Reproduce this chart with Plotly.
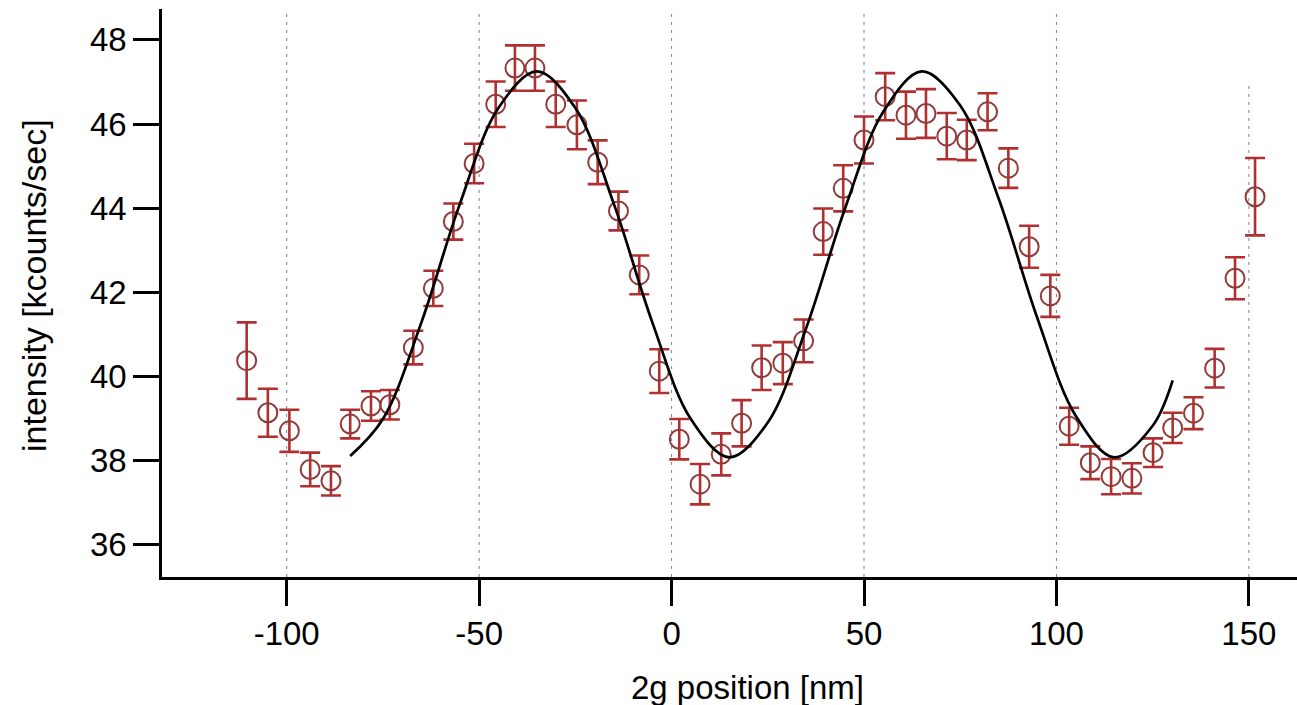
import plotly.graph_objects as go

# Measured intensity vs 2g position
position_nm = [-110.4, -104.9, -99.3, -93.9, -88.5, -83.5, -78.1, -73.2, -67.1, -61.9,
               -56.7, -51.3, -45.7, -40.7, -35.5, -30.1, -24.6, -19.2, -13.8, -8.4,
               -3.2, 2.0, 7.4, 12.9, 18.2, 23.4, 28.9, 34.3, 39.4, 44.6,
               50.0, 55.5, 60.9, 66.1, 71.5, 76.7, 82.1, 87.5, 92.9, 98.4,
               103.3, 108.8, 114.2, 119.6, 125.1, 130.2, 135.6, 141.1, 146.4, 151.6]
intensity = [40.37, 39.13, 38.70, 37.78, 37.51, 38.86, 39.29, 39.32, 40.68, 42.09,
             43.68, 45.06, 46.47, 47.33, 47.33, 46.47, 45.98, 45.09, 43.93, 42.41,
             40.12, 38.50, 37.43, 38.14, 38.88, 40.20, 40.31, 40.84, 43.44, 44.47,
             45.62, 46.65, 46.21, 46.25, 45.71, 45.62, 46.29, 44.95, 43.08, 41.91,
             38.81, 37.94, 37.61, 37.57, 38.18, 38.77, 39.12, 40.19, 42.33, 44.27]
intensity_err = [0.91, 0.57, 0.50, 0.40, 0.35, 0.34, 0.35, 0.35, 0.40, 0.42,
                 0.43, 0.47, 0.54, 0.54, 0.54, 0.54, 0.58, 0.52, 0.46, 0.46,
                 0.52, 0.48, 0.48, 0.50, 0.55, 0.53, 0.50, 0.51, 0.55, 0.55,
                 0.56, 0.56, 0.56, 0.58, 0.55, 0.48, 0.44, 0.47, 0.50, 0.50,
                 0.44, 0.39, 0.42, 0.36, 0.34, 0.36, 0.38, 0.46, 0.50, 0.92]

# Fitted curve, sampled
fit_x = [-83.5, -75, -65, -55, -45, -35, -25, -15, -5, 5, 15, 25,
         35, 45, 55, 65, 75, 85, 95, 105, 115, 125, 130.2]
fit_y = [38.10, 38.98, 41.28, 44.10, 46.38, 47.25, 46.38, 44.10, 41.28, 38.98, 38.07, 38.90,
         41.15, 43.97, 46.29, 47.25, 46.44, 44.22, 41.39, 39.06, 38.07, 38.82, 39.90]

x_ticks = [-100, -50, 0, 50, 100, 150]
x_tick_labels = ["-100", "-50", "0", "50", "100", "150"]
y_ticks = [36, 38, 40, 42, 44, 46, 48]
y_tick_labels = ["36", "38", "40", "42", "44", "46", "48"]
grid_top = [0.995, 0.995, 0.995, 0.995, 0.995, 0.871]

FONT = "Liberation Sans, Arial, Helvetica, sans-serif"
ERR_COLOR = "rgb(176,48,48)"
MARKER_COLOR = "rgb(145,58,58)"

fig = go.Figure()

fig.add_trace(go.Scatter(
    x=position_nm, y=intensity, mode="markers",
    error_y=dict(type="data", array=intensity_err, visible=True,
                 color=ERR_COLOR, thickness=2.6, width=10),
    marker=dict(symbol="circle-open", size=19, color=MARKER_COLOR,
                line=dict(width=2, color=MARKER_COLOR)),
    showlegend=False,
))

fig.add_trace(go.Scatter(
    x=fit_x, y=fit_y, mode="lines",
    line=dict(color="black", width=2.7, shape="spline", smoothing=1.0),
    showlegend=False,
))

# dotted vertical guides at the x ticks
for xv, top in zip(x_ticks, grid_top):
    fig.add_shape(type="line", xref="x", yref="paper", x0=xv, x1=xv, y0=0, y1=top,
                  line=dict(color="rgb(125,125,140)", width=1, dash="3px,5px"),
                  layer="below")

fig.update_layout(
    width=1297, height=705,
    margin=dict(l=162, r=0, t=9, b=128),
    paper_bgcolor="white", plot_bgcolor="white",
    font=dict(family=FONT, size=33, color="black"),
    xaxis=dict(range=[-132.4, 162.5], tickvals=x_ticks, ticktext=x_tick_labels,
               ticks="outside", ticklen=26, tickwidth=2.6, tickcolor="black",
               showline=True, linewidth=2.6, linecolor="black",
               showgrid=False, zeroline=False,
               tickfont=dict(family=FONT, size=33)),
    yaxis=dict(range=[35.222, 48.736], tickvals=y_ticks, ticktext=y_tick_labels,
               ticks="outside", ticklen=26, tickwidth=2.6, tickcolor="black",
               showline=True, linewidth=2.6, linecolor="black",
               showgrid=False, zeroline=False,
               tickfont=dict(family=FONT, size=33)),
    annotations=[
        dict(text="2g position [nm]", xref="paper", yref="paper",
             x=0.516, y=-0.1954, xanchor="center", yanchor="middle",
             showarrow=False, font=dict(family=FONT, size=33)),
        dict(text="intensity [kcounts/sec]", xref="paper", yref="paper",
             x=-0.1128, y=0.514, xanchor="center", yanchor="middle",
             textangle=-90, showarrow=False, font=dict(family=FONT, size=34)),
    ],
)

fig.write_html("out.html")
